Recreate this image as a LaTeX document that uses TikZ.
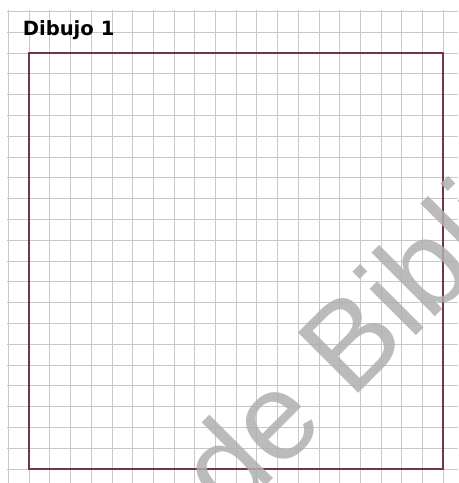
\documentclass[tikz,border=0pt]{standalone}
\usepackage{fontspec}
\setmainfont{DejaVu Sans}
\newfontfamily\markfont{Liberation Sans}
\definecolor{gridgray}{RGB}{200,200,200}
\definecolor{framered}{RGB}{112,52,78}
\definecolor{markgray}{RGB}{175,175,175}
\begin{document}
\begin{tikzpicture}[x=0.75pt, y=-0.75pt]
	\useasboundingbox (0,0) rectangle (458,483);
	% Cols
	\foreach \i in {0, ..., 21} {
		\draw [gridgray, line width=0.75pt] (8.5+20.7*\i,10) -- (8.5+20.7*\i,483);
	}
	% Rows
	\foreach \i in {0, ..., 22} {
		\draw [gridgray, line width=0.75pt] (7,11.5+20.8*\i) -- (458,11.5+20.8*\i);
	}
	% Frame
	\draw [framered, line width=1.5pt] (29,53) rectangle (443,469);
	% Title
	\node [anchor=base west, inner sep=0pt, font=\bfseries\fontsize{14.7}{17}\selectfont] (title) at (22.5,35.5) {Dibujo 1};
	% Watermark
	\node [anchor=base west, inner sep=0pt, rotate=45, text=markgray, opacity=0.85, font=\markfont\fontsize{93}{100}\selectfont] (mark) at (230,522) {de Bibli};
\end{tikzpicture}
\end{document}
